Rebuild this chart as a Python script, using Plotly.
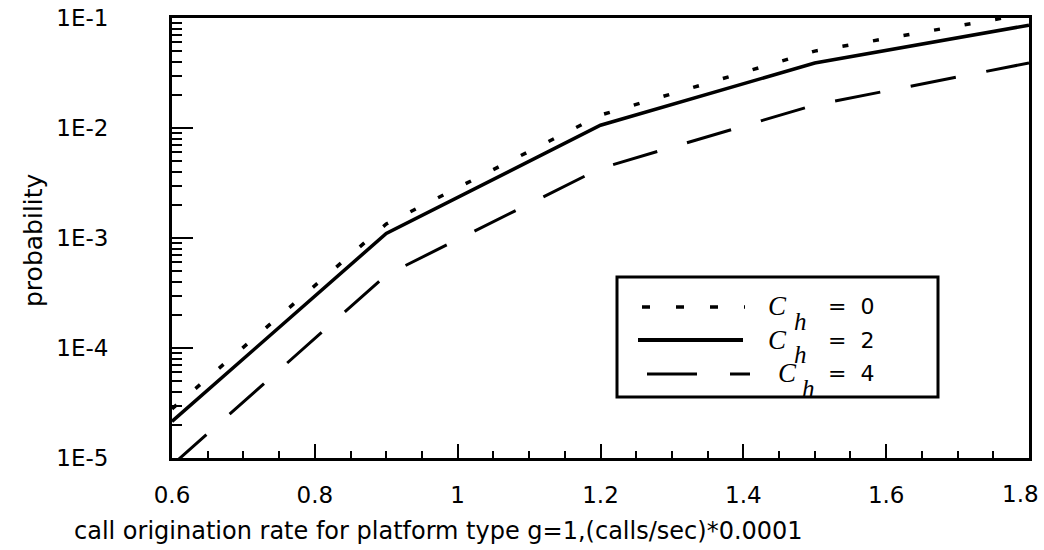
import plotly.graph_objects as go

# ---- data ----
rate = [0.6, 0.9, 1.2, 1.5, 1.8]
prob_ch0 = [2.8e-5, 1.34e-3, 1.31e-2, 5.0e-2, 1.1e-1]
prob_ch2 = [2.15e-5, 1.1e-3, 1.06e-2, 3.9e-2, 8.6e-2]
prob_ch4 = [8.6e-6, 4.6e-4, 4.3e-3, 1.62e-2, 3.9e-2]

y_major = [1e-5, 1e-4, 1e-3, 1e-2, 1e-1]
y_labels = ["1E-5", "1E-4", "1E-3", "1E-2", "1E-1"]
x_major = [0.6, 0.8, 1.0, 1.2, 1.4, 1.6, 1.8]
x_labels = ["0.6", "0.8", "1", "1.2", "1.4", "1.6", "1.8"]
x_minor = [round(0.6 + 0.05 * i, 2) for i in range(25)]
y_minor = [m * d for d in [1e-5, 1e-4, 1e-3, 1e-2] for m in range(2, 10)]

legend_names = ["0", "2", "4"]

W, H = 1044, 550
L, R, T, B = 172, 15, 18, 92
PW, PH = W - L - R, H - T - B


def px(x):
    return (x - L) / PW


def py(y):
    return (H - B - y) / PH


SANS = "DejaVu Sans"
SERIF = "Liberation Serif"

fig = go.Figure()
fig.add_trace(go.Scatter(x=rate, y=prob_ch0, mode="lines", showlegend=False,
                         line=dict(color="black", width=3.5, dash="6px,25px")))
fig.add_trace(go.Scatter(x=rate, y=prob_ch2, mode="lines", showlegend=False,
                         line=dict(color="black", width=3.5)))
fig.add_trace(go.Scatter(x=rate, y=prob_ch4, mode="lines", showlegend=False,
                         line=dict(color="black", width=3, dash="46px,31px")))

fig.update_layout(
    width=W, height=H,
    margin=dict(l=L, r=R, t=T, b=B),
    paper_bgcolor="white", plot_bgcolor="white",
    font=dict(family=SANS, size=23, color="black"),
)

# the last x label sits against the right edge; draw it as an annotation
x_ticktext = x_labels[:-1] + [""]

fig.update_xaxes(
    range=[0.6, 1.8], showgrid=False, zeroline=False, automargin=False,
    showline=True, linecolor="black", linewidth=3, mirror=True,
    tickmode="array", tickvals=x_major, ticktext=x_ticktext,
    ticks="inside", ticklen=14, tickwidth=2, tickcolor="black",
    ticklabelstandoff=14,
    tickfont=dict(family=SANS, size=23),
    minor=dict(tickmode="array", tickvals=x_minor, ticks="inside",
               ticklen=7, tickwidth=2, tickcolor="black", showgrid=False),
)
fig.update_yaxes(
    type="log", range=[-5, -1], showgrid=False, zeroline=False, automargin=False,
    showline=True, linecolor="black", linewidth=3, mirror=True,
    tickmode="array", tickvals=y_major, ticktext=y_labels,
    ticks="inside", ticklen=21, tickwidth=2, tickcolor="black",
    ticklabelstandoff=56, ticklabeloverflow="allow",
    tickfont=dict(family=SANS, size=23),
    minor=dict(tickmode="array", tickvals=y_minor, ticks="inside",
               ticklen=10, tickwidth=2, tickcolor="black", showgrid=False),
)

annotations = []
annotations.append(dict(
    text=x_labels[-1], xref="x", yref="paper", x=x_major[-1], y=py(494),
    xanchor="right", yanchor="middle", xshift=12, showarrow=False,
    font=dict(family=SANS, size=23)))
# axis titles
annotations.append(dict(
    text="probability", xref="paper", yref="paper", x=px(33), y=py(240),
    xanchor="center", yanchor="middle", textangle=-90, showarrow=False,
    font=dict(family=SANS, size=25)))
annotations.append(dict(
    text="call origination rate for platform type g=1,(calls/sec)*0.0001",
    xref="paper", yref="paper", x=px(72), y=py(531),
    xanchor="left", yanchor="middle", showarrow=False,
    font=dict(family=SANS, size=24)))

# manual legend
shapes = [dict(type="rect", xref="paper", yref="paper",
               x0=px(617), x1=px(938), y0=py(277), y1=py(397),
               line=dict(color="black", width=3), fillcolor="white", layer="above")]
rows = [
    dict(y=307, x0=642, x1=745, dash="8px,26px", width=3.5, cx=777, cy=306, hx=800, hy=321),
    dict(y=340, x0=638, x1=743, dash="solid", width=4, cx=777, cy=340, hx=800, hy=354),
    dict(y=374, x0=647, x1=750, dash="50px,33px", width=3, cx=787, cy=373, hx=808, hy=388),
]
for name, r in zip(legend_names, rows):
    shapes.append(dict(type="line", xref="paper", yref="paper",
                       x0=px(r["x0"]), x1=px(r["x1"]), y0=py(r["y"]), y1=py(r["y"]),
                       line=dict(color="black", width=r["width"], dash=r["dash"]),
                       layer="above"))
    annotations.append(dict(text="<i>C</i>", xref="paper", yref="paper",
                            x=px(r["cx"]), y=py(r["cy"]), xanchor="center", yanchor="middle",
                            showarrow=False, font=dict(family=SERIF, size=27)))
    annotations.append(dict(text="<i>h</i>", xref="paper", yref="paper",
                            x=px(r["hx"]), y=py(r["hy"]), xanchor="center", yanchor="middle",
                            showarrow=False, font=dict(family=SERIF, size=25)))
    annotations.append(dict(text="=  " + name, xref="paper", yref="paper",
                            x=px(826), y=py(r["cy"]), xanchor="left", yanchor="middle",
                            showarrow=False, font=dict(family=SANS, size=22)))

fig.update_layout(annotations=annotations, shapes=shapes)
fig.write_html("out.html")
